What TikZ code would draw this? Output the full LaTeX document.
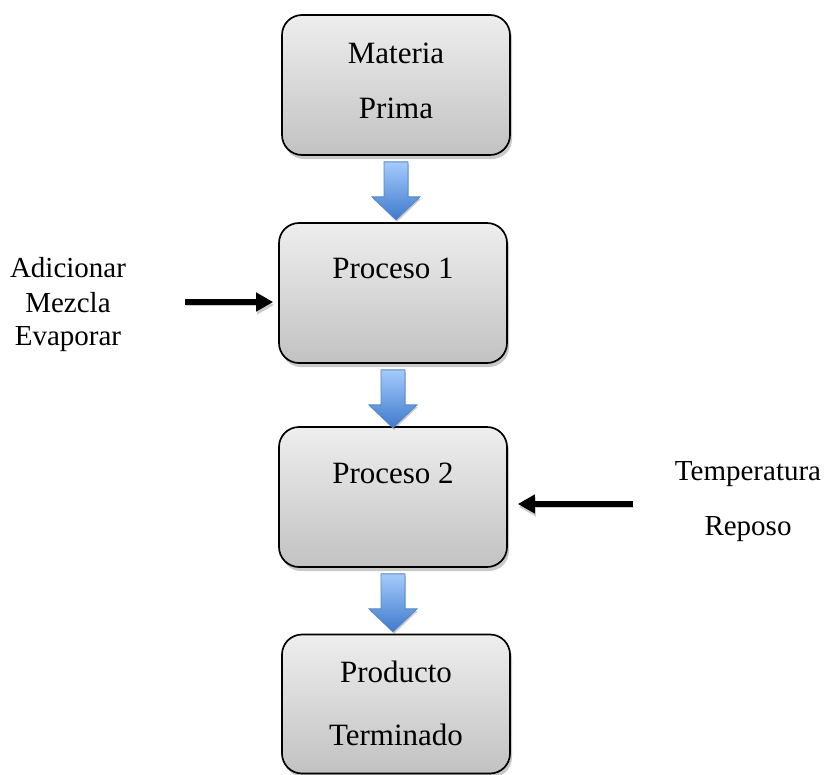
\documentclass[tikz,border=0pt]{standalone}
\usepackage{fontspec}
\setmainfont{Liberation Serif}
\usetikzlibrary{arrows.meta,shadows,calc}

\definecolor{boxtop}{RGB}{238,238,238}
\definecolor{boxbottom}{RGB}{194,194,194}
\definecolor{flowtop}{RGB}{165,203,252}
\definecolor{flowbottom}{RGB}{62,122,204}
\definecolor{flowedge}{RGB}{84,134,198}

% block arrow hanging below a box
\newcommand{\flowarrow}[1]{%
  \shade[top color=flowtop, bottom color=flowbottom, draw=flowedge, line width=0.8pt,
    drop shadow={shadow xshift=1pt, shadow yshift=-2pt, opacity=0.2, fill=black}]
    ($(#1.south)+(0,6)$) ++(-12,0) -- ++(0,35) -- ++(-12,0) -- ++(24,23)
    -- ++(24,-23) -- ++(-12,0) -- ++(0,-35) -- cycle;
}

\begin{document}
\begin{tikzpicture}[x=1pt, y=-1pt,
    flowbox/.style={draw=black, line width=1.7pt, rounded corners=20pt,
      top color=boxtop, bottom color=boxbottom,
      minimum width=228pt, minimum height=140pt,
      drop shadow={shadow xshift=2pt, shadow yshift=-4pt, opacity=0.3, fill=black!70}},
    boxlabel/.style={anchor=base, inner sep=0pt, font=\fontsize{31}{36}\selectfont},
    sidelabel/.style={anchor=base, inner sep=0pt, font=\fontsize{29}{34}\selectfont},
    inputarrow/.style={line width=6.5pt, -{Triangle[length=17pt,width=18pt]},
      preaction={draw=black!20, transform canvas={xshift=1pt, yshift=-3pt}}}]
  \useasboundingbox (0,0) rectangle (834,774);

  % Boxes
  \node[flowbox] (b1) at (396,85) {};
  \node[flowbox] (b2) at (393,293) {};
  \node[flowbox] (b3) at (393,497) {};
  \node[flowbox, minimum height=139pt] (b4) at (396,704) {};

  % Box texts
  \node[boxlabel] (t1a) at (396,63) {Materia};
  \node[boxlabel] (t1b) at (396,118) {Prima};
  \node[boxlabel] (t2) at (393,278) {Proceso 1};
  \node[boxlabel] (t3) at (393,483) {Proceso 2};
  \node[boxlabel] (t4a) at (396,682) {Producto};
  \node[boxlabel] (t4b) at (396,745) {Terminado};

  % Block arrows
  \flowarrow{b1}
  \flowarrow{b2}
  \flowarrow{b3}

  % Left inputs
  \node[sidelabel] (l1) at (68,277) {Adicionar};
  \node[sidelabel] (l2) at (68,312) {Mezcla};
  \node[sidelabel] (l3) at (68,345) {Evaporar};
  \coordinate (in1) at (185,302);
  \draw[inputarrow, shorten >=5pt] (in1) -- (in1 -| b2.west);

  % Right inputs
  \node[sidelabel] (r1) at (748,480) {Temperatura};
  \node[sidelabel] (r2) at (748,535) {Reposo};
  \coordinate (in2) at (633,504);
  \draw[inputarrow, shorten >=10pt] (in2) -- (in2 -| b3.east);
\end{tikzpicture}
\end{document}
